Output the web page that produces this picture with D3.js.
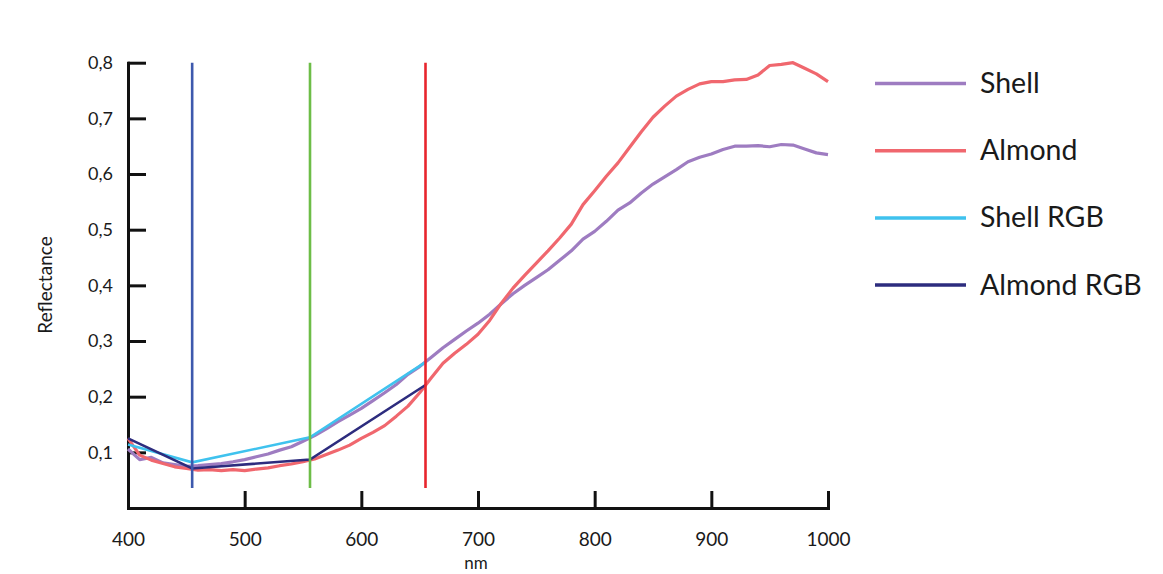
<!DOCTYPE html>
<html>
<head>
<meta charset="utf-8">
<script src="https://cdn.jsdelivr.net/npm/d3@7"></script>
<style>
	body { margin: 0; background: #fff; }
	svg { display: block; font-family: Lato, "Open Sans", sans-serif; }
	.axis path, .axis line { stroke: #111; stroke-width: 3; }
	.axis text { fill: #1a1a1a; font-family: Lato, sans-serif; }
</style>
</head>
<body>
<svg></svg>
<script>
//* data
const wavelengths = d3.range(400, 1001, 10);
const shell = [
	0.106, 0.087, 0.091, 0.081, 0.078, 0.075, 0.076, 0.078, 0.080, 0.083,
	0.087, 0.092, 0.097, 0.104, 0.110, 0.120, 0.130, 0.142, 0.155, 0.167,
	0.179, 0.193, 0.207, 0.222, 0.240, 0.254, 0.271, 0.288, 0.303, 0.318,
	0.332, 0.348, 0.367, 0.385, 0.400, 0.414, 0.428, 0.445, 0.462, 0.483,
	0.497, 0.515, 0.535, 0.548, 0.566, 0.582, 0.595, 0.608, 0.622, 0.630,
	0.636, 0.644, 0.650, 0.650, 0.651, 0.649, 0.653, 0.652, 0.645, 0.638,
	0.635
];
const almond = [
	0.125, 0.095, 0.086, 0.080, 0.074, 0.071, 0.068, 0.069, 0.067, 0.069,
	0.067, 0.070, 0.072, 0.076, 0.079, 0.083, 0.088, 0.096, 0.104, 0.113,
	0.125, 0.136, 0.148, 0.165, 0.183, 0.207, 0.234, 0.260, 0.278, 0.294,
	0.312, 0.337, 0.368, 0.395, 0.418, 0.440, 0.462, 0.485, 0.510, 0.545,
	0.570, 0.596, 0.620, 0.648, 0.676, 0.702, 0.722, 0.740, 0.752, 0.762,
	0.766, 0.766, 0.769, 0.770, 0.778, 0.795, 0.797, 0.800, 0.790, 0.780,
	0.766
];
const rgbWavelengths = [400, 455, 556, 655];
const shellRGB = [0.114, 0.082, 0.127, 0.262];
const almondRGB = [0.125, 0.071, 0.087, 0.221];
const bandLines = [455, 556, 655];
const bandColors = ["#3d59ad", "#6dbd47", "#e8252d"];
const xTicks = [400, 500, 600, 700, 800, 900, 1000];
const xTickLabels = ["400", "500", "600", "700", "800", "900", "1000"];
const yTicks = [0.1, 0.2, 0.3, 0.4, 0.5, 0.6, 0.7, 0.8];
const yTickLabels = ["0,1", "0,2", "0,3", "0,4", "0,5", "0,6", "0,7", "0,8"];
const seriesNames = ["Shell", "Almond", "Shell RGB", "Almond RGB"];
const seriesColors = ["#9e7cc1", "#f0676e", "#3fc2ee", "#2d2c7e"];

//* svg
const svg = d3.select("svg").attr("width", 1163).attr("height", 574);

//* scales
const x = d3.scaleLinear().domain([400, 1000]).range([128, 828]);
const y = d3.scaleLinear().domain([0, 0.8]).range([508, 62.7]);
const line = d3
	.line()
	.x((d) => x(d[0]))
	.y((d) => y(d[1]));

//* axes
svg
	.append("g")
	.attr("class", "axis")
	.attr("transform", `translate(0, ${y(0)})`)
	.call(
		d3
			.axisBottom(x)
			.tickValues(xTicks)
			.tickFormat((d, i) => xTickLabels[i])
			.tickSizeInner(-17)
			.tickSizeOuter(0)
			.tickPadding(25)
	)
	.call((g) => g.selectAll("text").style("font-size", "19px"));
svg
	.append("g")
	.attr("class", "axis")
	.attr("transform", `translate(${x(400)}, 0)`)
	.call(
		d3
			.axisLeft(y)
			.tickValues(yTicks)
			.tickFormat((d, i) => yTickLabels[i])
			.tickSizeInner(-18)
			.tickSizeOuter(0)
			.tickPadding(15)
	)
	.call((g) => g.selectAll("text").style("font-size", "18px"));
svg.selectAll(".axis .domain").attr("stroke-linecap", "square");

//* axis titles
svg
	.append("text")
	.attr("transform", "translate(52, 285) rotate(-90)")
	.attr("text-anchor", "middle")
	.style("font-size", "19px")
	.style("fill", "#1a1a1a")
	.text("Reflectance");
svg
	.append("text")
	.attr("x", 476)
	.attr("y", 569)
	.attr("text-anchor", "middle")
	.style("font-size", "17px")
	.style("fill", "#1a1a1a")
	.text("nm");

//* spectra
const spectra = [shell, almond].map((vals) => vals.map((v, i) => [wavelengths[i], v]));
const rgbLines = [shellRGB, almondRGB].map((vals) => vals.map((v, i) => [rgbWavelengths[i], v]));

svg
	.selectAll("path.spectrum")
	.data(spectra)
	.enter()
	.append("path")
	.attr("class", "spectrum")
	.attr("d", line)
	.attr("fill", "none")
	.attr("stroke", (_, i) => seriesColors[i])
	.attr("stroke-width", 3.2)
	.attr("stroke-linejoin", "round");

svg
	.selectAll("path.rgb")
	.data(rgbLines)
	.enter()
	.append("path")
	.attr("class", "rgb")
	.attr("d", line)
	.attr("fill", "none")
	.attr("stroke", (_, i) => seriesColors[i + 2])
	.attr("stroke-width", 2.6);

//* band lines
svg
	.selectAll("line.band")
	.data(bandLines)
	.enter()
	.append("line")
	.attr("class", "band")
	.attr("x1", (d) => x(d))
	.attr("x2", (d) => x(d))
	.attr("y1", y(0.8))
	.attr("y2", y(0.036))
	.attr("stroke", (_, i) => bandColors[i])
	.attr("stroke-width", 2.6);

//* legend
const legend = svg
	.selectAll("g.legend")
	.data(seriesNames)
	.enter()
	.append("g")
	.attr("class", "legend")
	.attr("transform", (_, i) => `translate(875, ${83.5 + i * 67.2})`);
legend
	.append("line")
	.attr("x1", 0)
	.attr("x2", 91)
	.attr("stroke", (_, i) => seriesColors[i])
	.attr("stroke-width", 3.5);
legend
	.append("text")
	.attr("x", 105)
	.attr("y", 9.5)
	.style("font-size", "28.5px")
	.style("fill", "#1a1a1a")
	.text((d) => d);
</script>
</body>
</html>
